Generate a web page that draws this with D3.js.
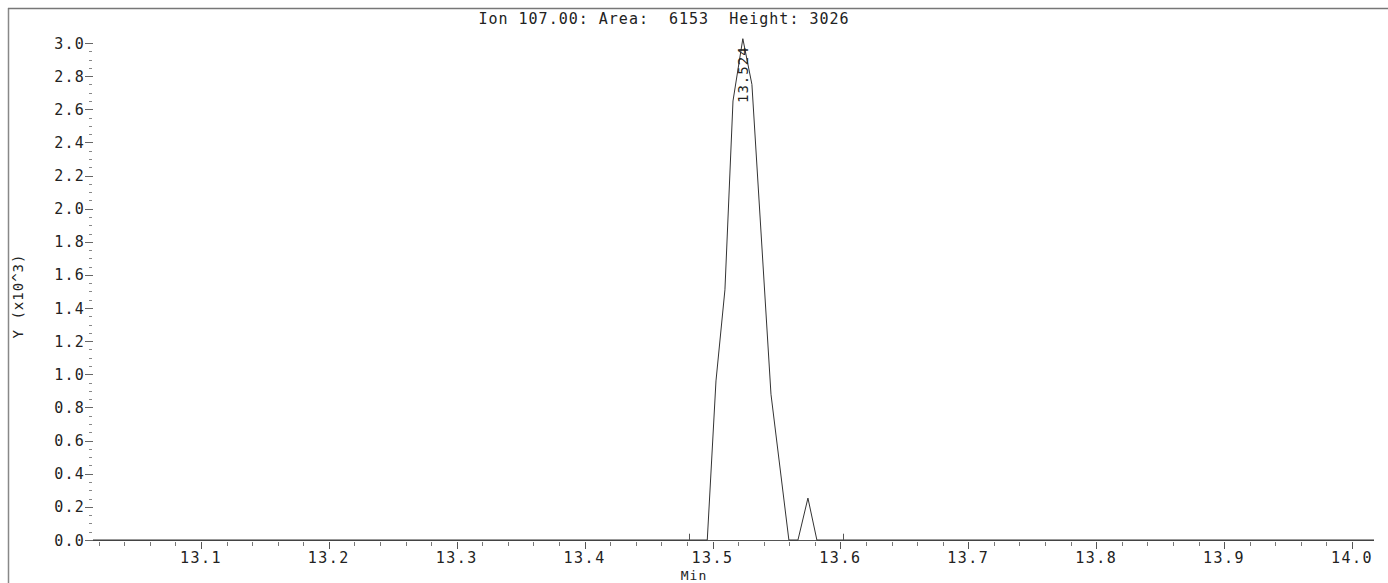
<!DOCTYPE html>
<html>
<head>
<meta charset="utf-8">
<script src="https://cdn.jsdelivr.net/npm/d3@7"></script>
<style>
  html, body { margin: 0; padding: 0; background: #fff; }
  svg { display: block; }
  text { font-family: "DejaVu Sans Mono", "Liberation Mono", monospace; fill: #222; white-space: pre; }
</style>
</head>
<body>
<svg id="chart" width="1388" height="583"></svg>
<script>
// ---- data ----
const titleText = "Ion 107.00: Area:  6153  Height: 3026";
const xLabel = "Min";
const yLabel = "Y (x10^3)";
const times = [13.0156, 13.4959, 13.5027, 13.5097, 13.5160, 13.5237, 13.5308, 13.5457, 13.5597, 13.5668, 13.5746, 13.5816, 14.0172];
const intensities = [0, 0, 960, 1510, 2650, 3026, 2750, 880, 0, 0, 253, 0, 0];
const markerTimes = [13.4815, 13.602];
const markerHeights = [38, 38];
const peakTime = 13.524;
const peakLabel = "13.524";
const xMajorTicks = [13.1, 13.2, 13.3, 13.4, 13.5, 13.6, 13.7, 13.8, 13.9, 14.0];
const yMajorTicks = [0.0, 0.2, 0.4, 0.6, 0.8, 1.0, 1.2, 1.4, 1.6, 1.8, 2.0, 2.2, 2.4, 2.6, 2.8, 3.0];

// ---- layout ----
const svg = d3.select("#chart");
const x = d3.scaleLinear().domain([13.0156, 14.0172]).range([93, 1374]);
const y = d3.scaleLinear().domain([0, 3.0]).range([540, 43]);
const yv = v => y(v / 1000);

// frame
svg.append("line").attr("x1", 8.5).attr("y1", 8).attr("x2", 8.5).attr("y2", 583)
  .attr("stroke", "#888").attr("stroke-width", 1.5);
svg.append("line").attr("x1", 8).attr("y1", 8.5).attr("x2", 1388).attr("y2", 8.5)
  .attr("stroke", "#777").attr("stroke-width", 1.5);

// title
svg.append("text").attr("x", 664).attr("y", 24).attr("text-anchor", "middle")
  .attr("xml:space", "preserve")
  .style("font-size", "15px").style("letter-spacing", "1px").text(titleText);

// x axis line
svg.append("line").attr("x1", x.range()[0]).attr("x2", x.range()[1])
  .attr("y1", 540.5).attr("y2", 540.5).attr("stroke", "#555").attr("stroke-width", 1);

// x ticks
const xMinor = d3.range(13.02, 14.0001, 0.02).filter(t => !xMajorTicks.some(m => Math.abs(m - t) < 1e-6));
svg.append("g").selectAll("line").data(xMinor).join("line")
  .attr("x1", d => Math.round(x(d)) + 0.5).attr("x2", d => Math.round(x(d)) + 0.5)
  .attr("y1", 542).attr("y2", 546).attr("stroke", "#777");
svg.append("g").selectAll("line").data(xMajorTicks).join("line")
  .attr("x1", d => Math.round(x(d)) + 0.5).attr("x2", d => Math.round(x(d)) + 0.5)
  .attr("y1", 542).attr("y2", 549).attr("stroke", "#555");
svg.append("g").selectAll("text").data(xMajorTicks).join("text")
  .attr("x", d => x(d)).attr("y", 563).attr("text-anchor", "middle")
  .style("font-size", "15px").style("letter-spacing", "1.5px")
  .text(d => d3.format(".1f")(d));

// x label
svg.append("text").attr("x", 694).attr("y", 580).attr("text-anchor", "middle")
  .style("font-size", "13px").style("letter-spacing", "1px").text(xLabel);

// y ticks
const yMinor = d3.range(0.05, 3.0, 0.05).filter(t => !yMajorTicks.some(m => Math.abs(m - t) < 1e-6));
svg.append("g").selectAll("line").data(yMinor).join("line")
  .attr("x1", 89).attr("x2", 92)
  .attr("y1", d => Math.round(y(d)) + 0.5).attr("y2", d => Math.round(y(d)) + 0.5)
  .attr("stroke", "#888");
svg.append("g").selectAll("line").data(yMajorTicks).join("line")
  .attr("x1", 85).attr("x2", 93)
  .attr("y1", d => Math.round(y(d)) + 0.5).attr("y2", d => Math.round(y(d)) + 0.5)
  .attr("stroke", "#666");
svg.append("g").selectAll("text").data(yMajorTicks).join("text")
  .attr("x", 85).attr("y", d => y(d) + 5.5).attr("text-anchor", "end")
  .style("font-size", "15px").style("letter-spacing", "1.2px")
  .text(d => d3.format(".1f")(d));

// y label
svg.append("text").attr("transform", "translate(23,296) rotate(-90)")
  .attr("text-anchor", "middle").style("font-size", "14px").style("letter-spacing", "1px")
  .text(yLabel);

// trace
const line = d3.line().x((d, i) => x(times[i])).y((d, i) => yv(intensities[i]));
svg.append("path").datum(intensities).attr("d", line)
  .attr("fill", "none").attr("stroke", "#333").attr("stroke-width", 1);

// baseline markers
svg.append("g").selectAll("line").data(markerTimes).join("line")
  .attr("x1", d => Math.round(x(d)) + 0.5).attr("x2", d => Math.round(x(d)) + 0.5)
  .attr("y1", yv(0)).attr("y2", (d, i) => yv(markerHeights[i]))
  .attr("stroke", "#555");

// peak label
svg.append("text").attr("transform", `translate(${x(peakTime) + 5},103) rotate(-90)`)
  .attr("text-anchor", "start").style("font-size", "14px").style("letter-spacing", "1px")
  .text(peakLabel);
</script>
</body>
</html>
